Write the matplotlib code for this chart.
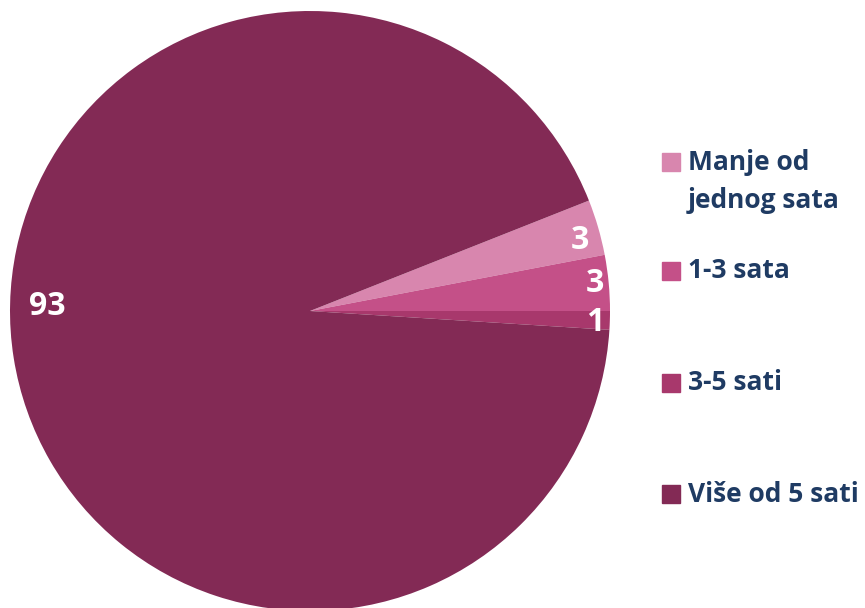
import matplotlib.pyplot as plt
from matplotlib.patches import Rectangle
import numpy as np

categories = ['Manje od\njednog sata', '1-3 sata', '3-5 sati', 'Više od 5 sati']
values = [3, 3, 1, 93]
colors = ['#D886AE', '#C45088', '#A8386C', '#832A55']
text_color = '#1F3B63'

# label placement (angle in degrees, fraction of radius) per slice
label_pos = [(14.7, 0.93), (5.6, 0.955), (-2.4, 0.95), (179.0, 0.875)]

plt.rcParams['font.family'] = ['Open Sans', 'DejaVu Sans']

W, H = 865, 608
fig = plt.figure(figsize=(W / 100, H / 100), dpi=100)
ax = fig.add_axes([10 / W, (H - 611) / H, 600 / W, 600 / H])

wedges, _ = ax.pie(values, colors=colors, startangle=21.6, counterclock=False,
                   radius=1.0, wedgeprops=dict(linewidth=0))
ax.set_xlim(-1, 1)
ax.set_ylim(-1, 1)
ax.set_aspect('equal')
ax.axis('off')

for v, (ang, r) in zip(values, label_pos):
    a = np.deg2rad(ang)
    ax.text(r * np.cos(a), r * np.sin(a), str(v), color='white',
            fontsize=23, fontweight='bold', ha='center', va='center')

# legend drawn by hand
ys = [162, 271, 383, 494]
for cat, col, yc in zip(categories, colors, ys):
    fig.patches.append(Rectangle((662 / W, (H - yc - 9) / H), 18 / W, 18 / H,
                                 transform=fig.transFigure, color=col))
    for i, line in enumerate(cat.split('\n')):
        fig.text(688 / W, (H - yc - i * 38) / H, line, color=text_color,
                 fontsize=19, fontweight='bold', ha='left', va='center')

fig.savefig('out.png', dpi=100)
